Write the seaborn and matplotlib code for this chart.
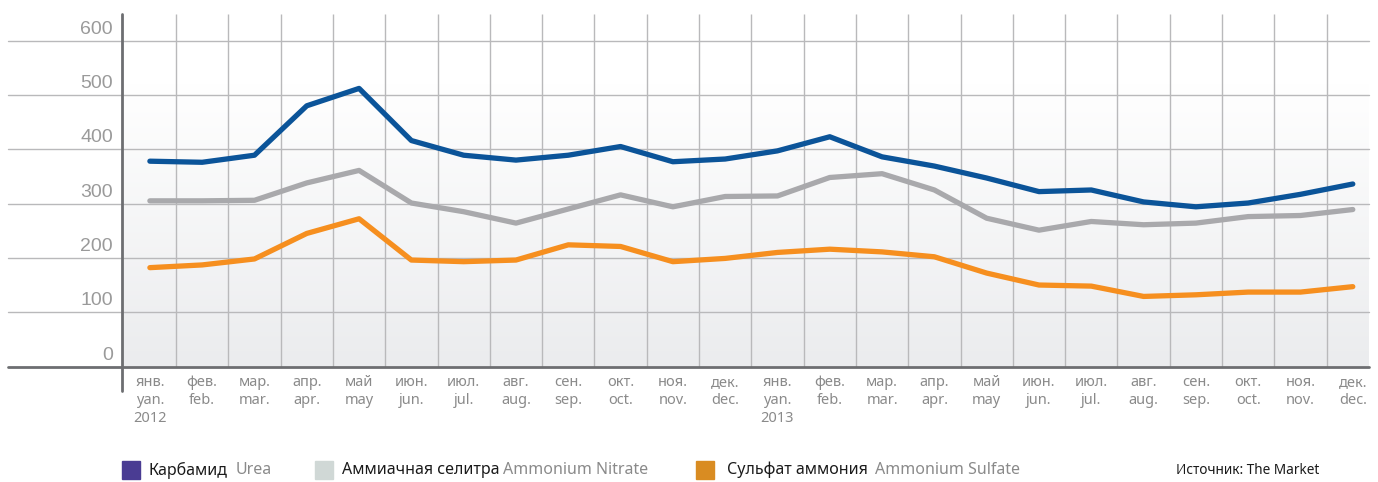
import numpy as np
import pandas as pd
import matplotlib.pyplot as plt
import matplotlib.transforms as mtransforms
from matplotlib.colors import LinearSegmentedColormap
from matplotlib.patches import Rectangle
import seaborn as sns

# --- data ---
months_ru = ["янв.", "фев.", "мар.", "апр.", "май", "июн.", "июл.", "авг.", "сен.", "окт.", "ноя.", "дек."] * 2
months_en = ["yan.", "feb.", "mar.", "apr.", "may", "jun.", "jul.", "aug.", "sep.", "oct.", "nov.", "dec."] * 2
years = ["2012"] + [""] * 11 + ["2013"] + [""] * 11

urea = [378, 376, 389, 480, 512, 416, 389, 380, 389, 405, 377, 382,
        397, 423, 386, 369, 347, 322, 325, 303, 294, 301, 317, 336]
nitrate = [305, 305, 306, 338, 361, 301, 285, 264, 290, 316, 294, 313,
           314, 348, 355, 325, 273, 251, 267, 261, 264, 276, 278, 289]
sulfate = [182, 187, 198, 245, 272, 196, 193, 196, 224, 221, 193, 199,
           210, 216, 211, 202, 172, 150, 148, 129, 132, 137, 137, 147]

y_ticks = [0, 100, 200, 300, 400, 500, 600]

series_ru = ["Карбамид", "Аммиачная селитра", "Сульфат аммония"]
series_en = ["Urea", "Ammonium Nitrate", "Ammonium Sulfate"]
line_colors = {"Карбамид": "#0b5499", "Аммиачная селитра": "#a9a9ac", "Сульфат аммония": "#f68f1f"}
legend_colors = ["#4a3c93", "#d0d8d6", "#d98c22"]

sns.set_style("white")
plt.rcParams["font.family"] = ["Noto Sans", "DejaVu Sans"]

W, H = 1378, 482
fig = plt.figure(figsize=(W / 100, H / 100), dpi=100)
ax = fig.add_axes([122 / W, 1 - 366.5 / H, (1369 - 122) / W, (366.5 - 14) / H])

xmin, xmax = -0.533, 23.31
ymax = 649

# soft gray gradient behind the plot
grad = np.linspace(0, 1, 256).reshape(-1, 1)
cmap = LinearSegmentedColormap.from_list("bg", ["#ebecee", "#ffffff"])
ax.imshow(grad, extent=[xmin, xmax, 0, 520], origin="lower", aspect="auto", cmap=cmap, zorder=0)

df = pd.DataFrame({
    "month": list(range(24)) * 3,
    "price": urea + nitrate + sulfate,
    "product": np.repeat(series_ru, 24),
})
sns.lineplot(data=df, x="month", y="price", hue="product", palette=line_colors,
             linewidth=3.8, legend=False, ax=ax, zorder=3,
             solid_capstyle="round", solid_joinstyle="round")

grid_c = "#b9b9bb"
ax.vlines(np.arange(0.5, 23, 1), 0, ymax, color=grid_c, lw=1, zorder=1)
ytr = ax.get_yaxis_transform()
for v in y_ticks[1:]:
    ax.plot([-0.0914, 1], [v, v], transform=ytr, color=grid_c, lw=1, clip_on=False, zorder=1)
ax.plot([-0.0914, 1], [0, 0], transform=ytr, color="#6d6e71", lw=2, clip_on=False, zorder=4)
ax.plot([0, 0], [-0.0708, 1], transform=ax.transAxes, color="#6d6e71", lw=2, clip_on=False, zorder=4)

ax.set_xlim(xmin, xmax)
ax.set_ylim(0, ymax)
for s in ax.spines.values():
    s.set_visible(False)

ax.set_xticks(range(24))
ax.set_xticklabels([f"{r}\n{e}" + (f"\n{y}" if y else "") for r, e, y in zip(months_ru, months_en, years)],
                   fontsize=10.5, color="#8a8a8a", linespacing=1.3)
ax.set_yticks(y_ticks)
ax.set_yticklabels([str(v) for v in y_ticks], fontsize=14, color="#9a9a9a", family="Liberation Sans")
ax.tick_params(axis="x", length=0, pad=6)
ax.tick_params(axis="y", length=0, pad=6.5)
ax.set_xlabel("")
ax.set_ylabel("")
shift = mtransforms.ScaledTranslation(0, 0.135, fig.dpi_scale_trans)
for lab in ax.get_yticklabels():
    lab.set_transform(lab.get_transform() + shift)

# legend drawn by hand, laid out like the original
sq = [122, 315, 696]
ru_x = [148, 342, 727]
en_x = [236, 503, 875]
for i in range(3):
    fig.patches.append(Rectangle((sq[i] / W, 1 - 479 / H), 18 / W, 18 / H,
                                 transform=fig.transFigure, color=legend_colors[i]))
    fig.text(ru_x[i] / W, 1 - 470 / H, series_ru[i], fontsize=11.5, color="#1a1a1a", va="center")
    fig.text(en_x[i] / W, 1 - 470 / H, series_en[i], fontsize=11.5, color="#8a8a8a", va="center")
fig.text(1176 / W, 1 - 470 / H, "Источник: The Market", fontsize=9.8, color="#1a1a1a", va="center")

fig.savefig("out.png", dpi=100)
